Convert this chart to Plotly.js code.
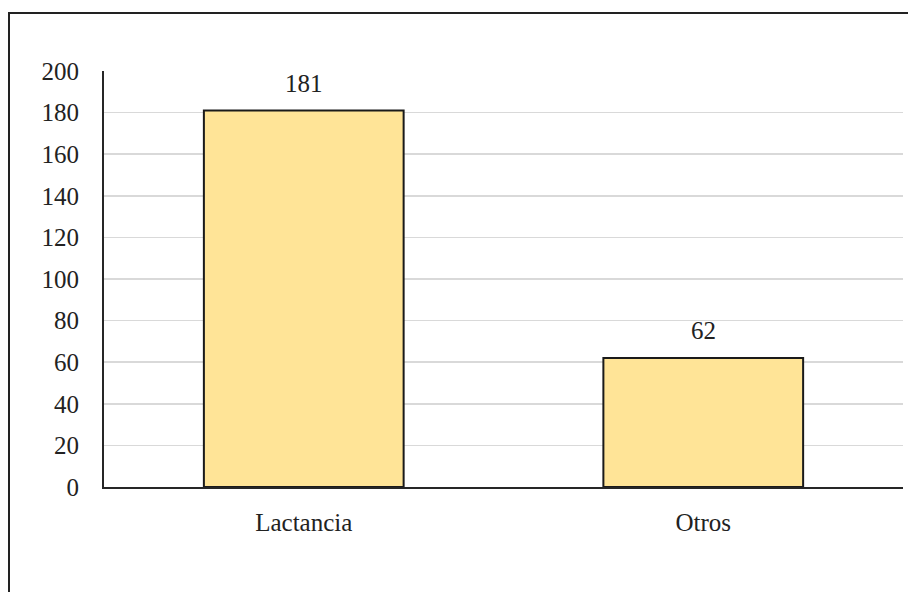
<!DOCTYPE html>
<html>
<head>
<meta charset="utf-8">
<script src="https://cdn.plot.ly/plotly-3.0.1.min.js"></script>
<style>
  html, body { margin: 0; padding: 0; background: #fff; overflow: hidden; }
  #wrap { position: relative; width: 908px; height: 592px; overflow: hidden; }
  #chart { position: absolute; left: 0; top: 0; width: 908px; height: 592px; }
  #frame { position: absolute; left: 8px; top: 12px; width: 1000px; height: 700px;
           border: 2px solid #222; box-sizing: border-box; pointer-events: none; }
</style>
</head>
<body>
<div id="wrap">
  <div id="chart"></div>
  <div id="frame"></div>
</div>
<script>
const categories = ['Lactancia', 'Otros'];
const counts = [181, 62];
const yTicks = [0, 20, 40, 60, 80, 100, 120, 140, 160, 180, 200];

const fontFamily = 'Liberation Serif, Times New Roman, serif';
const textSize = 25;

const trace = {
  type: 'bar',
  x: categories,
  y: counts,
  marker: { color: '#FFE497', line: { color: '#1a1a1a', width: 2 } },
  hoverinfo: 'skip'
};

// value labels sit just above each bar
const labels = categories.map((c, i) => ({
  x: c, y: counts[i], xref: 'x', yref: 'y',
  text: String(counts[i]), showarrow: false,
  yanchor: 'bottom', yshift: 12,
  font: { family: fontFamily, size: textSize, color: '#222' }
}));

const layout = {
  width: 908, height: 592,
  margin: { l: 104, r: 5, t: 71, b: 105 },
  paper_bgcolor: '#fff', plot_bgcolor: '#fff',
  showlegend: false,
  bargap: 0.5,
  font: { family: fontFamily, size: textSize, color: '#222' },
  xaxis: {
    showgrid: false, showline: true, linecolor: '#262626', linewidth: 2,
    ticks: 'outside', ticklen: 12, tickcolor: 'rgba(0,0,0,0)',
    tickfont: { family: fontFamily, size: textSize, color: '#222' },
    fixedrange: true
  },
  yaxis: {
    range: [0, 200], tickvals: yTicks, ticktext: yTicks.map(String),
    showgrid: true, gridcolor: '#d9d9d9', gridwidth: 1.5,
    zeroline: false, showline: true, linecolor: '#262626', linewidth: 2,
    ticks: 'outside', ticklen: 18, tickcolor: 'rgba(0,0,0,0)',
    tickfont: { family: fontFamily, size: textSize, color: '#222' },
    fixedrange: true
  },
  annotations: labels
};

Plotly.newPlot('chart', [trace], layout, { displayModeBar: false, staticPlot: true });
</script>
</body>
</html>
